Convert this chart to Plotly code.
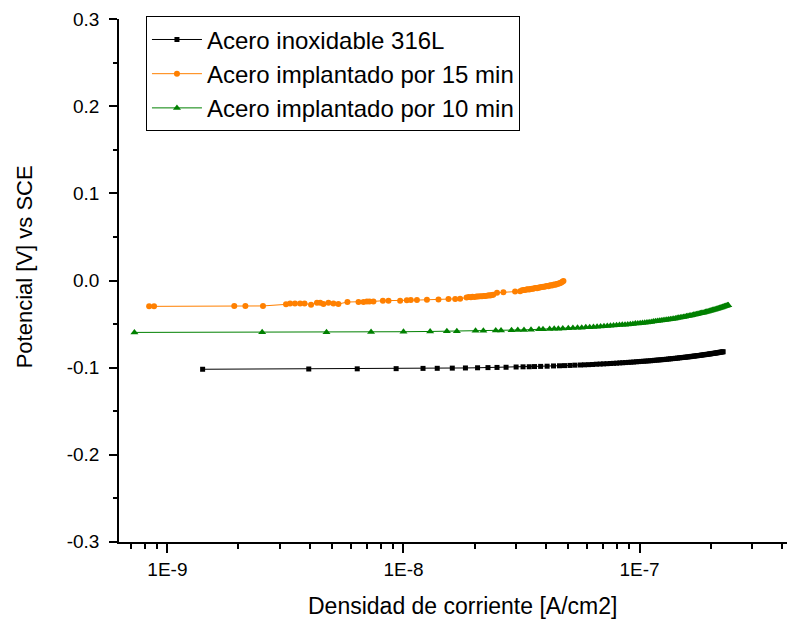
import plotly.graph_objects as go

# ---------------- data (current density in nA/cm2, potential in V vs SCE) ----------------
i_316L_nA = [1.41, 3.97, 6.37, 9.31, 12.1, 13.9, 16.1, 18.3, 20.6, 22.8, 24.9, 27.2, 30.0, 32.1,
             34.1, 35.9, 38.1, 40.6, 43.2, 45.8, 48.1, 50.7, 53.2, 56.1, 58.4, 60.9, 63.2, 65.6,
             68.1, 70.4, 72.8, 75.3, 77.6, 80.0, 82.5, 84.8, 87.2, 89.7, 92.0, 94.4, 96.9, 99.2,
             101.6, 104.1, 106.4, 108.8, 111.3, 113.6, 116.0, 118.5, 120.8, 123.2, 125.7, 128.0,
             130.4, 132.9, 135.2, 137.6, 140.1, 142.4, 144.8, 147.3, 149.6, 152.0, 154.5, 156.8,
             159.2, 161.7, 164.0, 166.4, 168.9, 171.2, 173.6, 176.1, 178.4, 180.8, 183.3, 185.6,
             188.0, 190.5, 192.8, 195.2, 197.7, 200.0, 202.4, 204.9, 207.2, 209.6, 212.1, 214.4,
             216.8, 219.3, 221.6, 224.0, 226.0]
E_316L = [-0.1019, -0.1016, -0.1014, -0.1012, -0.1009, -0.1008, -0.1006, -0.1004, -0.1002, -0.1000,
          -0.0998, -0.0996, -0.0993, -0.0991, -0.0990, -0.0988, -0.0986, -0.0984, -0.0981, -0.0979,
          -0.0977, -0.0975, -0.0972, -0.0970, -0.0968, -0.0966, -0.0964, -0.0961, -0.0959, -0.0957,
          -0.0955, -0.0953, -0.0951, -0.0949, -0.0946, -0.0944, -0.0942, -0.0940, -0.0938, -0.0936,
          -0.0933, -0.0931, -0.0929, -0.0927, -0.0925, -0.0923, -0.0921, -0.0919, -0.0916, -0.0914,
          -0.0912, -0.0910, -0.0908, -0.0906, -0.0904, -0.0901, -0.0899, -0.0897, -0.0895, -0.0893,
          -0.0891, -0.0888, -0.0886, -0.0884, -0.0882, -0.0880, -0.0878, -0.0876, -0.0874, -0.0871,
          -0.0869, -0.0867, -0.0865, -0.0863, -0.0861, -0.0859, -0.0856, -0.0854, -0.0852, -0.0850,
          -0.0848, -0.0846, -0.0843, -0.0842, -0.0839, -0.0837, -0.0835, -0.0833, -0.0831, -0.0829,
          -0.0826, -0.0824, -0.0822, -0.0820, -0.0818]

i_15min_nA = [0.837, 0.878, 1.92, 2.14, 2.54, 3.18, 3.31, 3.47, 3.65, 3.81, 4.06, 4.30, 4.44, 4.58,
              4.81, 5.05, 5.30, 5.79, 6.45, 6.77, 7.00, 7.18, 7.46, 8.18, 8.64, 9.68, 10.33, 10.74,
              11.4, 12.57, 14.07, 15.51, 16.56, 17.38, 18.5, 18.9, 19.3, 19.6, 20.0, 20.4, 20.7,
              21.1, 21.5, 21.9, 22.2, 22.6, 23.0, 23.3, 23.7, 24.0, 24.9, 26.5, 29.7, 31.2, 31.8,
              32.3, 32.7, 33.2, 33.6, 34.1, 34.5, 35.0, 35.4, 35.9, 36.3, 36.8, 37.2, 37.7, 38.1,
              38.6, 39.1, 39.6, 40.1, 40.6, 41.1, 41.6, 42.1, 42.6, 43.1, 43.6, 44.1, 44.6, 45.1,
              45.6, 46.1, 46.6, 47.1, 47.6]
E_15min = [-0.0297, -0.0297, -0.0293, -0.0294, -0.0292, -0.0274, -0.0263, -0.0263, -0.0263, -0.0263,
           -0.0278, -0.0255, -0.0255, -0.0270, -0.0255, -0.0263, -0.0270, -0.0247, -0.0247, -0.0247,
           -0.0240, -0.0240, -0.0240, -0.0232, -0.0232, -0.0232, -0.0228, -0.0225, -0.0225, -0.0221,
           -0.0217, -0.0213, -0.0213, -0.0209, -0.0195, -0.0190, -0.0192, -0.0186, -0.0188, -0.0183,
           -0.0185, -0.0180, -0.0182, -0.0177, -0.0179, -0.0174, -0.0170, -0.0172, -0.0166, -0.0163,
           -0.0140, -0.0135, -0.0127, -0.0124, -0.0112, -0.0108, -0.0110, -0.0104, -0.0101, -0.0103,
           -0.0097, -0.0094, -0.0096, -0.0090, -0.0087, -0.0089, -0.0083, -0.0081, -0.0078, -0.0074,
           -0.0071, -0.0073, -0.0066, -0.0063, -0.0065, -0.0058, -0.0055, -0.0057, -0.0050, -0.0046,
           -0.0048, -0.0041, -0.0037, -0.0034, -0.0030, -0.0022, -0.0014, -0.0006]

i_10min_nA = [0.725, 2.52, 4.72, 7.29, 10.0, 12.97, 15.27, 16.83, 20.2, 21.8, 24.6, 25.9, 28.7, 30.5,
              32.4, 34.7, 37.5, 39.0, 41.6, 43.5, 45.3, 47.3, 49.9, 52.2, 54.6, 56.9, 59.2, 61.5,
              63.8, 66.1, 68.4, 70.7, 73.0, 75.3, 77.6, 79.9, 82.2, 84.5, 86.8, 89.1, 91.4, 93.7,
              96.0, 98.3, 100.6, 102.9, 105.2, 107.5, 109.8, 112.1, 114.4, 116.7, 119.0, 121.3,
              123.6, 125.9, 128.2, 130.5, 132.8, 135.1, 137.4, 139.7, 142.0, 144.3, 146.6, 148.9,
              151.2, 153.5, 155.8, 158.1, 160.4, 162.7, 165.0, 167.3, 169.6, 171.9, 174.2, 176.5,
              178.8, 181.1, 183.4, 185.7, 188.0, 190.3, 192.6, 194.9, 197.2, 199.5, 201.8, 204.1,
              206.4, 208.7, 211.0, 213.3, 215.6, 217.9, 220.2, 222.5, 224.8, 227.1, 229.4, 231.7,
              234.0, 236.3, 237.6]
E_10min = [-0.0596, -0.0595, -0.0593, -0.0590, -0.0588, -0.0585, -0.0583, -0.0582, -0.0578, -0.0577,
           -0.0574, -0.0573, -0.0570, -0.0568, -0.0567, -0.0564, -0.0561, -0.0560, -0.0557, -0.0555,
           -0.0553, -0.0551, -0.0549, -0.0546, -0.0543, -0.0541, -0.0538, -0.0536, -0.0533, -0.0531,
           -0.0528, -0.0526, -0.0523, -0.0520, -0.0518, -0.0515, -0.0512, -0.0509, -0.0507, -0.0504,
           -0.0501, -0.0498, -0.0495, -0.0493, -0.0490, -0.0487, -0.0484, -0.0481, -0.0478, -0.0475,
           -0.0472, -0.0469, -0.0466, -0.0463, -0.0460, -0.0457, -0.0454, -0.0451, -0.0447, -0.0444,
           -0.0441, -0.0438, -0.0435, -0.0431, -0.0428, -0.0425, -0.0421, -0.0418, -0.0415, -0.0411,
           -0.0408, -0.0404, -0.0401, -0.0398, -0.0394, -0.0391, -0.0387, -0.0384, -0.0380, -0.0377,
           -0.0373, -0.0369, -0.0366, -0.0362, -0.0358, -0.0355, -0.0351, -0.0347, -0.0344, -0.0340,
           -0.0336, -0.0332, -0.0328, -0.0325, -0.0321, -0.0317, -0.0313, -0.0309, -0.0305, -0.0301,
           -0.0297, -0.0293, -0.0289, -0.0285, -0.0283]

series_names = ["Acero inoxidable 316L", "Acero implantado por 15 min", "Acero implantado por 10 min"]

x_tick_vals = [1e-9, 1e-8, 1e-7]
x_tick_text = ["1E-9", "1E-8", "1E-7"]
x_minor_vals = [7e-10, 8e-10, 9e-10,
                2e-9, 3e-9, 4e-9, 5e-9, 6e-9, 7e-9, 8e-9, 9e-9,
                2e-8, 3e-8, 4e-8, 5e-8, 6e-8, 7e-8, 8e-8, 9e-8,
                2e-7, 3e-7, 4e-7]
y_tick_vals = [-0.3, -0.2, -0.1, 0.0, 0.1, 0.2, 0.3]
y_tick_text = ["-0.3", "-0.2", "-0.1", "0.0", "0.1", "0.2", "0.3"]
y_minor_vals = [-0.25, -0.15, -0.05, 0.05, 0.15, 0.25]

NA = 1e-9  # nA -> A

FONT = "Liberation Sans, Arial, sans-serif"

fig = go.Figure()
fig.add_trace(go.Scatter(
    x=[v * NA for v in i_316L_nA], y=E_316L, name=series_names[0], mode="lines+markers",
    line=dict(color="#000000", width=1),
    marker=dict(symbol="square", size=5, color="#000000")))
fig.add_trace(go.Scatter(
    x=[v * NA for v in i_15min_nA], y=E_15min, name=series_names[1], mode="lines+markers",
    line=dict(color="#FF8000", width=1),
    marker=dict(symbol="circle", size=6, color="#FF8000")))
fig.add_trace(go.Scatter(
    x=[v * NA for v in i_10min_nA], y=E_10min, name=series_names[2], mode="lines+markers",
    line=dict(color="#008000", width=1),
    marker=dict(symbol="triangle-up", size=7, color="#008000")))

# the page body adds an 8 px offset, so the figure is 8 px smaller on each axis
fig.update_layout(
    width=787, height=611,
    margin=dict(l=111, r=2, t=11, b=77, autoexpand=False),
    paper_bgcolor="white", plot_bgcolor="white",
    font=dict(family=FONT, color="black"),
    showlegend=True,
    legend=dict(x=0.040, y=1.005, xanchor="left", yanchor="top",
                bordercolor="black", borderwidth=1, bgcolor="white",
                font=dict(family=FONT, size=24, color="black"),
                itemwidth=50, tracegroupgap=0),
    xaxis=dict(type="log", range=[-9.205, -6.35], automargin=False,
               showline=True, linecolor="black", linewidth=1.5, mirror=False,
               showgrid=False, zeroline=False,
               tickmode="array", tickvals=x_tick_vals, ticktext=x_tick_text,
               ticks="outside", ticklen=9, tickwidth=1.5, tickcolor="black",
               ticklabelstandoff=0, ticklabeloverflow="allow",
               tickfont=dict(family=FONT, size=19, color="black"),
               minor=dict(tickmode="array", tickvals=x_minor_vals, ticks="outside",
                          ticklen=5, tickwidth=1.5, tickcolor="black", showgrid=False)),
    yaxis=dict(range=[-0.3002, 0.3002], automargin=False,
               showline=True, linecolor="black", linewidth=1.5, mirror=False,
               showgrid=False, zeroline=False,
               tickmode="array", tickvals=y_tick_vals, ticktext=y_tick_text,
               ticks="outside", ticklen=8, tickwidth=1.5, tickcolor="black",
               ticklabelstandoff=6, ticklabeloverflow="allow",
               tickfont=dict(family=FONT, size=19, color="black"),
               minor=dict(tickmode="array", tickvals=y_minor_vals, ticks="outside",
                          ticklen=4, tickwidth=1.5, tickcolor="black", showgrid=False)),
    annotations=[
        dict(text="Densidad de corriente [A/cm2]", xref="paper", yref="paper",
             x=0.509, y=-0.122, xanchor="center", yanchor="middle", showarrow=False,
             font=dict(family=FONT, size=23, color="black")),
        dict(text="Potencial [V] vs SCE", xref="paper", yref="paper",
             x=-0.141, y=0.527, xanchor="center", yanchor="middle", showarrow=False,
             textangle=-90, font=dict(family=FONT, size=22, color="black")),
    ],
)

fig.write_html("out.html")
